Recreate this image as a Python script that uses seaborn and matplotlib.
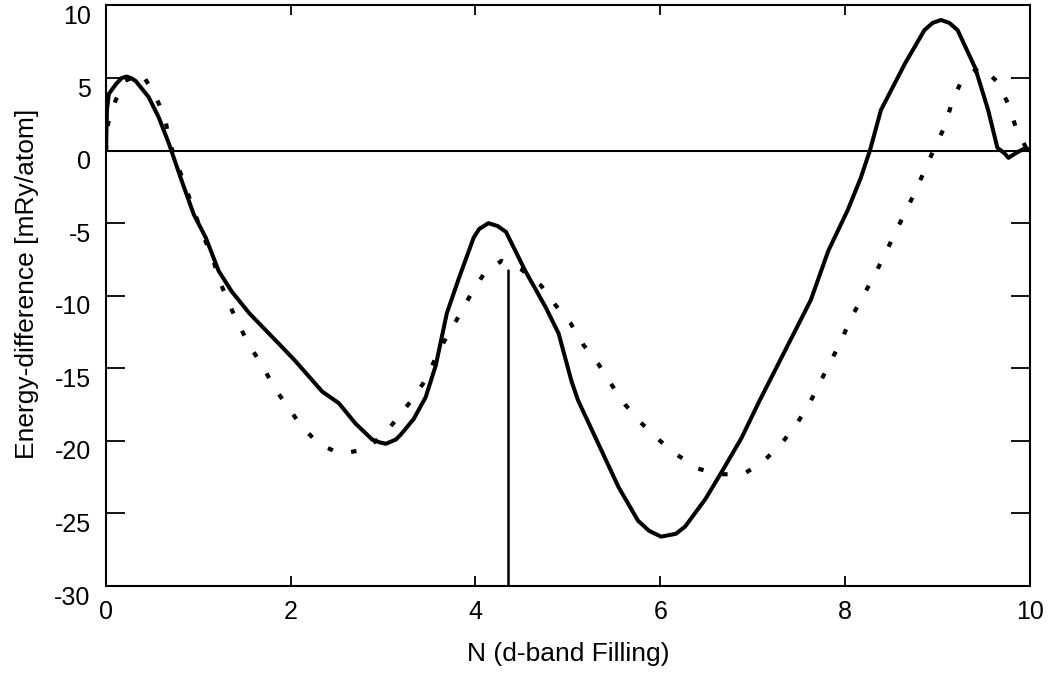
import numpy as np
import pandas as pd
import matplotlib
matplotlib.use("Agg")
import matplotlib.pyplot as plt
import matplotlib.transforms as mtransforms
import seaborn as sns

# ---- data ----
solid_x = [0.0, 0.01, 0.03, 0.11, 0.17, 0.22, 0.27, 0.32, 0.46, 0.57, 0.68, 0.82, 0.95, 1.08,
           1.22, 1.36, 1.55, 1.87, 2.05, 2.34, 2.52, 2.70, 2.88, 2.96, 3.03, 3.14, 3.20, 3.33, 3.46,
           3.57, 3.69, 3.82, 3.98, 4.04, 4.14, 4.24, 4.33, 4.54, 4.76, 4.90, 5.04, 5.11, 5.33,
           5.55, 5.76, 5.88, 6.01, 6.17, 6.27, 6.49, 6.66, 6.88, 7.07, 7.35, 7.63, 7.82, 8.03,
           8.17, 8.27, 8.39, 8.65, 8.86, 8.95, 9.04, 9.13, 9.22, 9.41, 9.55, 9.65, 9.73, 9.77,
           9.87, 9.96, 10.0]
solid_y = [0.0, 2.8, 3.9, 4.6, 5.0, 5.1, 5.0, 4.8, 3.7, 2.3, 0.5, -2.1, -4.4, -6.0,
           -8.3, -9.7, -11.2, -13.3, -14.5, -16.6, -17.4, -18.8, -19.9, -20.1, -20.2, -19.9, -19.5, -18.5, -17.0,
           -14.8, -11.2, -8.8, -6.0, -5.4, -5.0, -5.2, -5.6, -8.3, -10.8, -12.6, -15.9, -17.2, -20.2,
           -23.2, -25.5, -26.2, -26.6, -26.4, -25.9, -24.0, -22.2, -19.8, -17.3, -13.8, -10.3, -6.9, -4.1,
           -1.9, 0.0, 2.8, 6.0, 8.3, 8.8, 9.0, 8.8, 8.3, 5.7, 2.8, 0.2, -0.2, -0.5,
           -0.1, 0.2, 0.0]

dotted_x = [0.0, 0.02, 0.10, 0.20, 0.39, 0.54, 0.64, 0.69, 0.77, 1.04, 1.15, 1.22,
            1.32, 1.43, 1.55, 1.69, 1.82, 1.97, 2.12, 2.30, 2.54, 2.79, 2.99, 3.16,
            3.32, 3.47, 3.58, 3.69, 3.82, 3.95, 4.09, 4.28, 4.50, 4.71, 4.86, 5.03,
            5.17, 5.33, 5.47, 5.62, 5.80, 5.98, 6.17, 6.40, 6.64, 6.90, 7.12, 7.31,
            7.47, 7.61, 7.72, 7.84, 7.96, 8.06, 8.19, 8.31, 8.43, 8.54, 8.65, 8.77,
            8.88, 8.98, 9.09, 9.16, 9.27, 9.47, 9.64, 9.77, 9.85, 9.96, 10.0]
dotted_y = [0.0, 1.8, 3.4, 4.8, 5.3, 3.7, 2.2, 0.5, -0.9, -5.7, -7.3, -8.8,
            -10.4, -11.9, -13.4, -14.8, -16.3, -17.7, -19.0, -20.2, -20.9, -20.6, -19.7, -18.4,
            -17.1, -15.7, -14.1, -12.8, -11.4, -9.9, -8.5, -7.6, -8.2, -9.3, -10.6, -11.9,
            -13.4, -14.7, -16.1, -17.5, -18.8, -19.9, -20.9, -21.9, -22.3, -22.3, -21.4, -20.2,
            -18.9, -17.5, -16.1, -14.6, -13.1, -11.6, -10.1, -8.7, -7.2, -5.7, -4.3, -2.7,
            -1.1, 0.3, 1.8, 3.4, 4.9, 5.8, 4.8, 3.2, 1.6, 0.2, 0.0]

marker_x = 4.35
marker_top = -8.2

x_ticks = [0, 2, 4, 6, 8, 10]
y_ticks = [-30, -25, -20, -15, -10, -5, 0, 5, 10]
x_label = "N (d-band Filling)"
y_label = "Energy-difference [mRy/atom]"

# ---- style ----
sns.set_theme(style="ticks")
plt.rcParams["font.family"] = ["Liberation Sans", "DejaVu Sans"]

fig = plt.figure(figsize=(10.55, 6.83), dpi=100)
ax = fig.add_axes([0.1005, 0.1420, 0.8755, 0.850])

df_solid = pd.DataFrame({"N": solid_x, "E": solid_y})
df_dot = pd.DataFrame({"N": dotted_x, "E": dotted_y})

sns.lineplot(data=df_solid, x="N", y="E", ax=ax, color="black", lw=2.9,
             sort=False, estimator=None)
sns.lineplot(data=df_dot, x="N", y="E", ax=ax, color="black", lw=3.0,
             sort=False, estimator=None, linestyle=(0, (1.3, 4.6)))

ax.axhline(0, color="black", lw=1.5)
ax.plot([marker_x, marker_x], [-30, marker_top], color="black", lw=1.8)

ax.set_xlim(0, 10)
ax.set_ylim(-30, 10)
ax.set_xticks(x_ticks)
ax.set_yticks(y_ticks)
ax.set_xticklabels([str(t) for t in x_ticks])
ax.set_yticklabels([str(t) for t in y_ticks])

ax.tick_params(axis="both", direction="in", top=True, right=True,
               labelsize=18, colors="black", width=1.3)
ax.tick_params(axis="x", length=7, pad=10)
ax.tick_params(axis="y", length=14, pad=11)

# the y tick labels in the reference sit slightly below their ticks
offset = mtransforms.ScaledTranslation(0, -9 / 100, fig.dpi_scale_trans)
for lbl in ax.get_yticklabels():
    lbl.set_transform(lbl.get_transform() + offset)

for s in ax.spines.values():
    s.set_linewidth(1.5)
    s.set_color("black")

ax.set_xlabel(x_label, fontsize=19, labelpad=13, color="black")
ax.set_ylabel(y_label, fontsize=19, labelpad=11, color="black")
ax.yaxis.label.set_y(0.52)

fig.savefig("out.png", dpi=100, facecolor="white")
